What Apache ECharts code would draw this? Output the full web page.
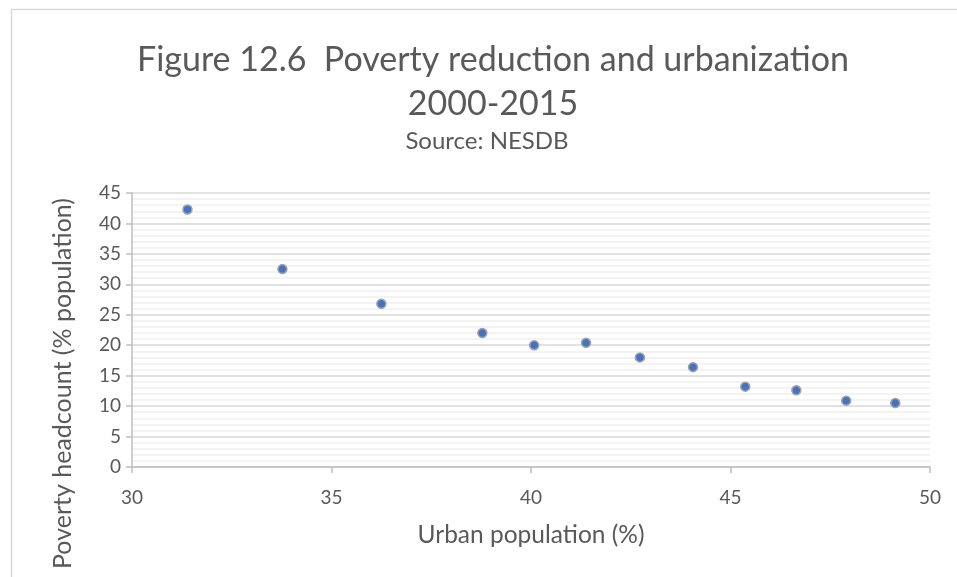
<!DOCTYPE html>
<html>
<head>
<meta charset="utf-8">
<script src="https://cdn.jsdelivr.net/npm/echarts@6/dist/echarts.min.js"></script>
<style>
  html, body { margin: 0; padding: 0; background: #ffffff; }
  #chart { width: 957px; height: 577px; }
</style>
</head>
<body>
<div id="chart"></div>
<script>
// Urban population share (%) and poverty headcount (% of population), 2000-2015
const urbanShare = [31.39, 33.77, 36.25, 38.78, 40.08, 41.38, 42.73, 44.06, 45.37, 46.65, 47.90, 49.13];
const povertyHeadcount = [42.3, 32.5, 26.8, 22.0, 20.0, 20.4, 18.0, 16.4, 13.2, 12.6, 10.9, 10.5];

const titleLines = ['Figure 12.6  Poverty reduction and urbanization', '2000-2015'];
const subtitle = 'Source: NESDB';
const xTitle = 'Urban population (%)';
const yTitle = 'Poverty headcount (% population)';

const FONT = 'Lato, "Open Sans", sans-serif';
const TEXT = '#595959';

const points = urbanShare.map((x, i) => [x, povertyHeadcount[i]]);

const chart = echarts.init(document.getElementById('chart'), null, { renderer: 'canvas' });

chart.setOption({
  backgroundColor: '#ffffff',
  animation: false,
  title: [
    {
      text: titleLines.join('\n'),
      left: 488,
      textAlign: 'center',
      top: 33,
      textStyle: { fontFamily: FONT, fontSize: 34, fontWeight: 'normal', color: TEXT, lineHeight: 44 }
    },
    {
      text: subtitle,
      left: 482,
      textAlign: 'center',
      top: 123,
      textStyle: { fontFamily: FONT, fontSize: 24, fontWeight: 'normal', color: TEXT, lineHeight: 26 }
    }
  ],
  graphic: [
    {
      type: 'rect',
      shape: { x: 11.5, y: 9.5, width: 1000, height: 700 },
      style: { fill: 'none', stroke: '#d9d9d9', lineWidth: 1.5 },
      silent: true
    },
    {
      type: 'text',
      left: 50,
      top: 198,
      rotation: Math.PI / 2,
      style: { text: yTitle, fontFamily: FONT, fontSize: 25, fill: TEXT }
    }
  ],
  grid: { left: 132, right: 27, top: 193, bottom: 110, containLabel: false },
  xAxis: {
    type: 'value',
    min: 30, max: 50, interval: 5,
    name: xTitle,
    nameLocation: 'middle',
    nameGap: 56,
    nameTextStyle: { fontFamily: FONT, fontSize: 24.5, color: TEXT },
    axisLine: { show: true, lineStyle: { color: '#bfbfbf', width: 1.5 } },
    axisTick: { show: true, length: 6, lineStyle: { color: '#bfbfbf', width: 1.5 } },
    axisLabel: { fontFamily: FONT, fontSize: 19, color: TEXT, margin: 21 },
    splitLine: { show: false }
  },
  yAxis: {
    type: 'value',
    min: 0, max: 45, interval: 5,
    axisLine: { show: true, lineStyle: { color: '#bfbfbf', width: 1.5 } },
    axisTick: { show: true, length: 6, lineStyle: { color: '#bfbfbf', width: 1.5 } },
    axisLabel: { fontFamily: FONT, fontSize: 19, color: TEXT, margin: 11 },
    splitLine: { show: true, lineStyle: { color: '#d9d9d9', width: 1.5 } },
    minorTick: { show: false, splitNumber: 5 },
    minorSplitLine: { show: true, lineStyle: { color: '#f0f0f0', width: 1.5 } }
  },
  series: [{
    type: 'scatter',
    data: points,
    symbol: 'circle',
    symbolSize: 9,
    itemStyle: { color: '#4472C4', borderColor: '#a3a3a3', borderWidth: 1.5, opacity: 1 },
    z: 5
  }]
});
</script>
</body>
</html>
